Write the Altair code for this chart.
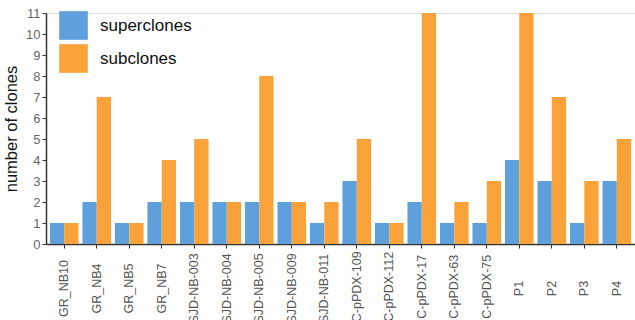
import altair as alt
import pandas as pd

samples = ["GR_NB10", "GR_NB4", "GR_NB5", "GR_NB7", "SJD-NB-003", "SJD-NB-004",
           "SJD-NB-005", "SJD-NB-009", "SJD-NB-011", "IC-pPDX-109", "IC-pPDX-112",
           "IC-pPDX-17", "IC-pPDX-63", "IC-pPDX-75", "P1", "P2", "P3", "P4"]
superclones = [1, 2, 1, 2, 2, 2, 2, 2, 1, 3, 1, 2, 1, 1, 4, 3, 1, 3]
subclones = [1, 7, 1, 4, 5, 2, 8, 2, 2, 5, 1, 11, 2, 3, 11, 7, 3, 5]
series = ["superclones", "subclones"]
colors = ["#5DA0DC", "#FAA23A"]

rows = []
for s, a, b in zip(samples, superclones, subclones):
    rows.append({"sample": s, "type": series[0], "n": a})
    rows.append({"sample": s, "type": series[1], "n": b})
df = pd.DataFrame(rows)

FONT = "Liberation Sans"

chart = alt.Chart(df).mark_bar().encode(
    x=alt.X("sample:N", sort=samples, title=None,
            scale=alt.Scale(paddingInner=0.12, paddingOuter=0.12),
            axis=alt.Axis(labelAngle=-90, labelAlign="center", labelBaseline="middle",
                          labelPadding=40, labelFontSize=12.5, labelColor="#555555",
                          labelFont=FONT, tickSize=4, tickColor="#333333",
                          domainColor="#333333", domainWidth=1.5, labelOverlap=False)),
    xOffset=alt.XOffset("type:N", sort=series),
    y=alt.Y("n:Q", title="number of clones",
            scale=alt.Scale(domain=[0, 11], nice=False),
            axis=alt.Axis(values=list(range(12)), grid=False, tickSize=4,
                          tickColor="#333333", domainColor="#333333", domainWidth=1.5,
                          labelFontSize=13, labelColor="#666666", labelFont=FONT,
                          titleFont=FONT, titleFontSize=16.5, titleFontWeight="normal",
                          titleColor="#111111", titlePadding=6)),
    color=alt.Color("type:N", sort=series, title=None,
                    scale=alt.Scale(domain=series, range=colors),
                    legend=alt.Legend(orient="none", legendX=13, legendY=-2,
                                      symbolType="square", symbolSize=820,
                                      symbolStrokeWidth=0, symbolOpacity=1,
                                      labelFontSize=17, labelFont=FONT,
                                      labelColor="#111111", labelOffset=12,
                                      rowPadding=4)),
).properties(
    width=589, height=231,
    autosize=alt.AutoSizeParams(type="none"),
    padding={"left": 46, "top": 13, "right": 0, "bottom": 110},
).configure_view(stroke=None).configure(background="white")

chart.save("out.html", embed_options={"renderer": "svg", "actions": False})
